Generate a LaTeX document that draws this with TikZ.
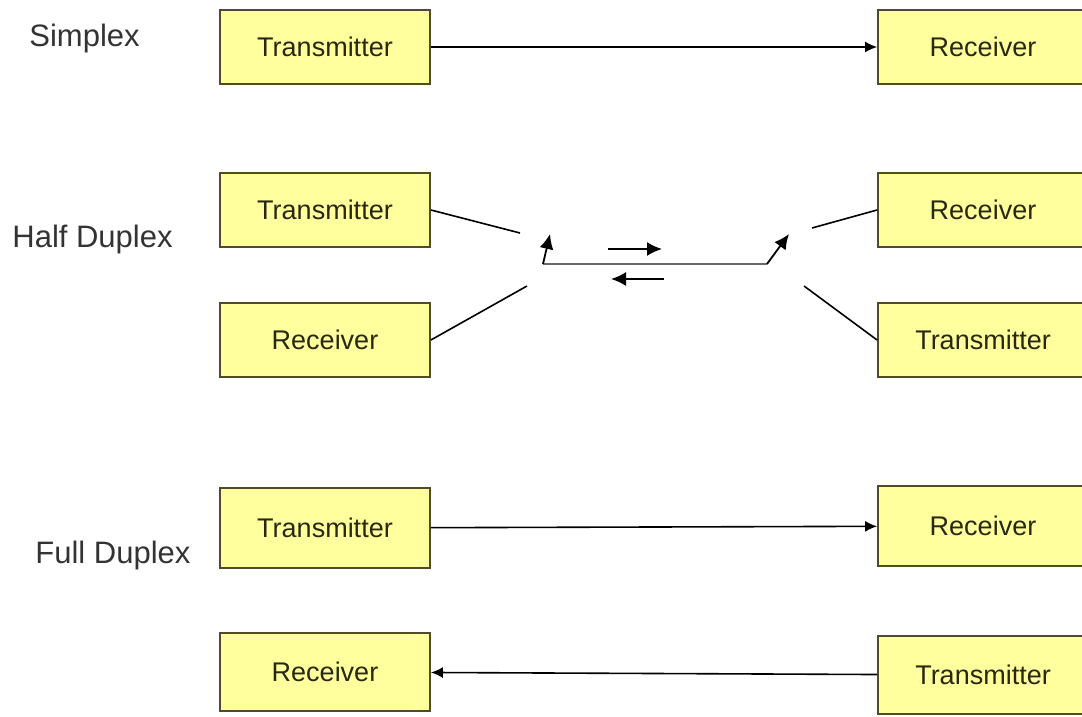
\documentclass[tikz,border=0pt]{standalone}
\usepackage{fontspec}
\setmainfont{Liberation Sans}
\usetikzlibrary{arrows.meta}
\definecolor{boxfill}{RGB}{255,255,158}
\definecolor{boxline}{RGB}{80,75,40}
\definecolor{boxtext}{RGB}{40,40,15}
\definecolor{wire}{RGB}{105,105,105}

\begin{document}
\begin{tikzpicture}[x=0.5pt,y=-0.5pt,
    box/.style={draw=boxline, line width=0.9pt, fill=boxfill, minimum width=105pt,
      minimum height=37pt, inner sep=0pt, text=boxtext, font=\fontsize{13.5}{16}\selectfont},
    mode/.style={inner sep=0pt, anchor=base west, text=black!80, font=\fontsize{15.5}{18}\selectfont},
    link/.style={line width=0.8pt, -{Latex[length=6pt,width=5.5pt]}},
    hint/.style={line width=0.9pt, -{Latex[length=7.5pt,width=7pt]}},
    arm/.style={line width=0.8pt}]

      \useasboundingbox (0,0) rectangle (1082,717);

      %simplex
      \node[mode] (simplex) at (29,47) {Simplex};
      \node[box] (txS) at (325,47) {Transmitter};
      \node[box] (rxS) at (983,47) {Receiver};
      \draw[link] (txS) -- (rxS);

      %half duplex
      \node[mode] (half) at (12,247) {Half Duplex};
      \node[box] (txH) at (325,210) {Transmitter};
      \node[box] (rxH) at (325,340) {Receiver};
      \node[box] (rxHr) at (983,210) {Receiver};
      \node[box] (txHr) at (983,340) {Transmitter};

      \coordinate (a1) at (520,233);
      \coordinate (a2) at (527,286);
      \coordinate (b1) at (812,228);
      \coordinate (b2) at (804,286);
      \coordinate (p1) at (543,264);
      \coordinate (p2) at (767,264);
      \coordinate (s1) at (550,234);
      \coordinate (s2) at (789,234);

      \draw[arm] (txH.east) -- (a1);
      \draw[arm] (rxH.east) -- (a2);
      \draw[arm] (rxHr.west) -- (b1);
      \draw[arm] (txHr.west) -- (b2);
      \draw[wire, line width=1.1pt] (p1) -- (p2);
      \draw[hint] (p1) -- (s1);
      \draw[hint] (p2) -- (s2);

      \coordinate (r1) at (608,249);
      \coordinate (r2) at (662,249);
      \coordinate (l1) at (664,279);
      \coordinate (l2) at (611,279);
      \draw[hint] (r1) -- (r2);
      \draw[hint] (l1) -- (l2);

      %full duplex
      \node[mode] (full) at (35,563) {Full Duplex};
      \node[box, minimum height=40pt] (txF) at (325,528) {Transmitter};
      \node[box, minimum height=40pt] (rxF) at (983,526) {Receiver};
      \node[box, minimum height=39pt] (rxFl) at (325,672) {Receiver};
      \node[box, minimum height=39pt] (txFr) at (983,675) {Transmitter};
      \draw[link] (txF) -- (rxF);
      \draw[link] (txFr) -- (rxFl);

\end{tikzpicture}
\end{document}
